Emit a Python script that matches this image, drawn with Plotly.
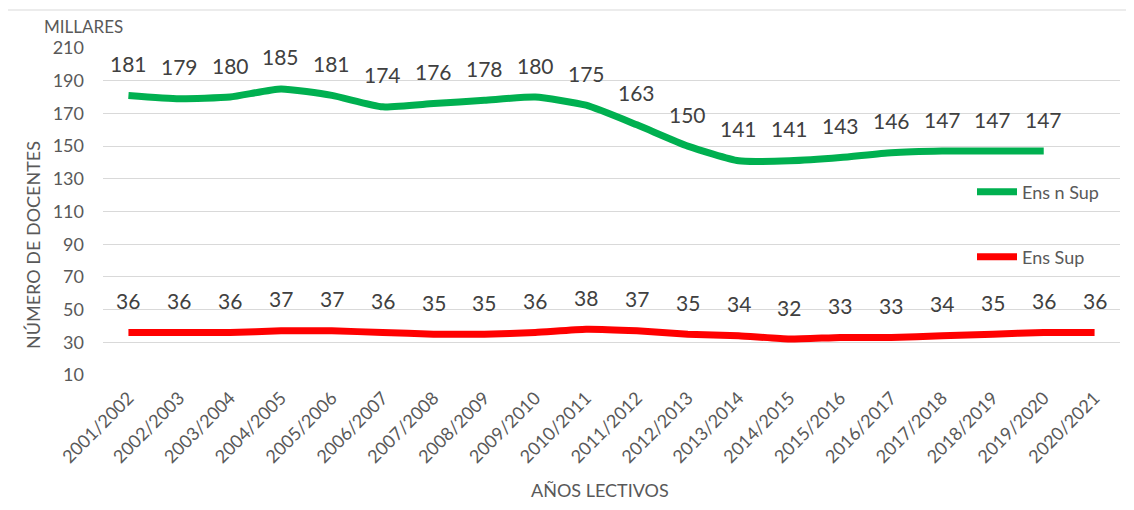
import plotly.graph_objects as go

years = ["2001/2002", "2002/2003", "2003/2004", "2004/2005", "2005/2006", "2006/2007",
         "2007/2008", "2008/2009", "2009/2010", "2010/2011", "2011/2012", "2012/2013",
         "2013/2014", "2014/2015", "2015/2016", "2016/2017", "2017/2018", "2018/2019",
         "2019/2020", "2020/2021"]
ens_n_sup = [181, 179, 180, 185, 181, 174, 176, 178, 180, 175, 163, 150, 141, 141, 143,
             146, 147, 147, 147, None]
ens_sup = [36, 36, 36, 37, 37, 36, 35, 35, 36, 38, 37, 35, 34, 32, 33, 33, 34, 35, 36, 36]
y_ticks = [10, 30, 50, 70, 90, 110, 130, 150, 170, 190, 210]

FONT = "Lato"
GRAY = "#595959"
LABEL = "#404040"

# page offset (body margin) and figure size
OFF = 8
FW, FH = 1134 - 2 * OFF, 510 - 2 * OFF
# plot area geometry in absolute page pixels
L, R, T, B = 103, 1120, 48, 375
W, H = R - L, B - T
px = lambda x: (x - L) / W
py = lambda y: (B - y) / H

fig = go.Figure()
fig.add_trace(go.Scatter(x=years, y=ens_n_sup, mode="lines", name="Ens n Sup",
                         line=dict(color="#00b050", width=7, shape="spline", smoothing=0.5),
                         legend="legend", hoverinfo="x+y"))
fig.add_trace(go.Scatter(x=years, y=ens_sup, mode="lines", name="Ens Sup",
                         line=dict(color="#ff0000", width=7, shape="spline", smoothing=0.5),
                         legend="legend2", hoverinfo="x+y"))

annotations = []
for series in (ens_n_sup, ens_sup):
    for xv, yv in zip(years, series):
        if yv is None:
            continue
        annotations.append(dict(x=xv, y=yv, xref="x", yref="y", text=str(yv),
                                showarrow=False, yshift=32,
                                font=dict(family=FONT, size=21, color=LABEL)))

annotations.append(dict(text="MILLARES", xref="paper", yref="paper", x=px(42), y=py(27),
                        xanchor="left", yanchor="middle", showarrow=False,
                        font=dict(family=FONT, size=17, color=GRAY)))
annotations.append(dict(text="AÑOS LECTIVOS", xref="paper", yref="paper", x=px(600), y=py(490),
                        xanchor="center", yanchor="middle", showarrow=False,
                        font=dict(family=FONT, size=18, color=GRAY)))
annotations.append(dict(text="NÚMERO DE DOCENTES", xref="paper", yref="paper", x=px(33), y=py(245),
                        xanchor="center", yanchor="middle", showarrow=False, textangle=-90,
                        font=dict(family=FONT, size=18, color=GRAY)))

fig.update_layout(
    width=FW, height=FH,
    margin=dict(l=L - OFF, r=FW - (R - OFF), t=T - OFF, b=FH - (B - OFF)),
    paper_bgcolor="white", plot_bgcolor="white",
    font=dict(family=FONT, size=18, color=GRAY),
    annotations=annotations,
    legend=dict(x=px(972), y=py(192), xanchor="left", yanchor="middle",
                bgcolor="rgba(0,0,0,0)", font=dict(family=FONT, size=18, color=GRAY),
                itemwidth=40),
    legend2=dict(x=px(972), y=py(257), xanchor="left", yanchor="middle",
                 bgcolor="rgba(0,0,0,0)", font=dict(family=FONT, size=18, color=GRAY),
                 itemwidth=40),
    showlegend=True,
    shapes=[dict(type="rect", xref="paper", yref="paper",
                 x0=px(7), x1=px(1127), y0=py(515), y1=py(10),
                 line=dict(color="#d9d9d9", width=1), fillcolor="rgba(0,0,0,0)", layer="below")],
)
fig.update_xaxes(type="category", tickangle=-45, showgrid=False, showline=False, zeroline=False,
                 tickfont=dict(family=FONT, size=18, color=GRAY), ticks="",
                 ticklabelstandoff=8,
                 range=[-0.5, len(years) - 0.5])
fig.update_yaxes(range=[10, 210], tickvals=y_ticks, showgrid=True, gridcolor="#d9d9d9",
                 gridwidth=1, showline=False, zeroline=False, ticks="",
                 ticklabelstandoff=18,
                 tickfont=dict(family=FONT, size=18, color=GRAY))

fig.write_html("out.html")
